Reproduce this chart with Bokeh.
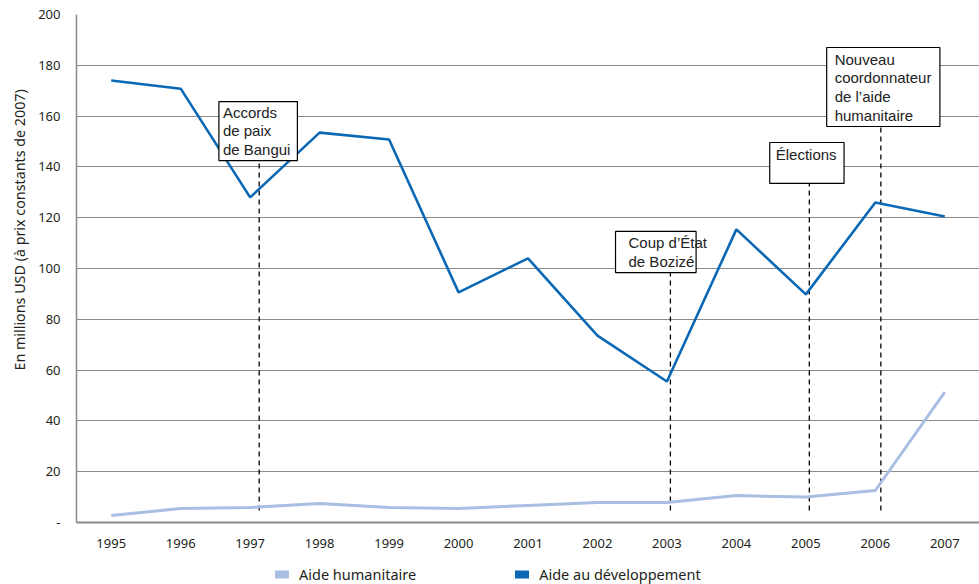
from bokeh.plotting import figure
from bokeh.models import (ColumnDataSource, FixedTicker, Legend, LegendItem,
                          Range1d, Span, Title)
from bokeh.core.properties import value
from bokeh.embed import file_html
from bokeh.resources import INLINE

# Aid flows to the Central African Republic, millions USD (constant 2007 prices)
years = [1995, 1996, 1997, 1998, 1999, 2000, 2001, 2002, 2003, 2004, 2005, 2006, 2007]
aide_developpement = [174.0, 170.8, 128.0, 153.5, 150.8, 90.6, 104.0, 73.6, 55.5, 115.4, 89.8, 126.0, 120.5]
aide_humanitaire = [2.8, 5.5, 5.9, 7.5, 5.9, 5.5, 6.7, 7.9, 7.9, 10.6, 10.0, 12.6, 51.3]
year_labels = [str(y) for y in years]
y_ticks = [0, 20, 40, 60, 80, 100, 120, 140, 160, 180, 200]

# Key events: marker position, label, box (left, right, bottom, top) in data units
event_x = [1997.13, 2003.05, 2005.05, 2006.08]
event_labels = ["Accords\nde paix\nde Bangui", "Coup d\u2019\u00c9tat\nde Boziz\u00e9",
                "\u00c9lections", "Nouveau\ncoordonnateur\nde l\u2019aide\nhumanitaire"]
box_left = [1996.55, 2002.26, 2004.48, 2005.30]
box_right = [1997.68, 2003.42, 2005.55, 2006.93]
box_bottom = [142.5, 98.4, 133.5, 155.9]
box_top = [165.7, 114.6, 149.6, 187.0]
text_pad_x = [4, 13, 6, 8]
text_pad_y = [2, 3, 3, 3]
dash_bottom = 4.7

AXIS_FONT = "Noto Sans"
TEXT_COLOR = "#231f20"
GRID_COLOR = "#8a8a8a"
HUM_COLOR = "#a9bee3"
DEV_COLOR = "#0a68b4"

# The frame reaches the bottom of the canvas; the strip below zero holds the
# year labels and the legend, so the value axis is bounded to 0..200.
PX_PER_UNIT = 508 / 200
y_floor = -62 / PX_PER_UNIT

p = figure(width=979, height=584, output_backend="svg", toolbar_location=None,
           x_range=Range1d(1994.5, 2007.5), y_range=Range1d(y_floor, 200),
           min_border_left=74, min_border_right=0, min_border_top=14,
           min_border_bottom=0)
p.outline_line_color = None
p.background_fill_color = "white"

# value axis
p.xaxis.visible = False
p.yaxis.ticker = FixedTicker(ticks=y_ticks)
p.yaxis.bounds = (0, 200)
p.yaxis.major_label_overrides = {0: "-"}
p.yaxis.major_tick_line_color = None
p.yaxis.minor_tick_line_color = None
p.yaxis.axis_line_color = GRID_COLOR
p.yaxis.axis_line_width = 1.5
p.yaxis.major_label_text_font = AXIS_FONT
p.yaxis.major_label_text_font_size = "13px"
p.yaxis.major_label_text_color = TEXT_COLOR
p.yaxis.major_label_standoff = 10

p.add_layout(Title(text="En millions USD (\u00e0 prix constants de 2007)",
                   align="left", offset=214, text_font=AXIS_FONT,
                   text_font_size="14.3px", text_font_style="normal",
                   text_color=TEXT_COLOR, standoff=14), "left")

p.xgrid.grid_line_color = None
p.ygrid.grid_line_color = GRID_COLOR
p.ygrid.grid_line_width = 1.2

# category baseline and year labels
p.add_layout(Span(location=0, dimension="width", line_color=GRID_COLOR,
                  line_width=2))
p.text(x=years, y=[0] * len(years), text=year_labels, y_offset=21,
       text_font=value(AXIS_FONT), text_font_size="13px", text_color=TEXT_COLOR,
       text_align="center", text_baseline="middle")

# event markers: dashed verticals and labelled boxes
p.segment(x0=event_x, x1=event_x, y0=[dash_bottom] * 4, y1=box_bottom,
          line_color="black", line_width=1.3, line_dash="5 4")

src = ColumnDataSource(dict(left=box_left, right=box_right, bottom=box_bottom,
                            top=box_top, label=event_labels,
                            dx=text_pad_x, dy=text_pad_y))

# data lines
p.line(years, aide_humanitaire, line_color=HUM_COLOR, line_width=3)
p.line(years, aide_developpement, line_color=DEV_COLOR, line_width=2.6)

p.quad(left="left", right="right", bottom="bottom", top="top", source=src,
       fill_color="white", line_color="black", line_width=1.2)
p.text(x="left", y="top", text="label", source=src,
       text_font=value("Liberation Sans"), text_font_size="15px",
       text_color="#222222", text_align="left", text_baseline="top",
       text_line_height=1.1, x_offset="dx", y_offset="dy")

# legend swatches: thick rounded bars (hidden on the plot itself)
sw_hum = p.line(years, aide_humanitaire, line_color=HUM_COLOR, line_width=8,
                line_cap="round", visible=False)
sw_dev = p.line(years, aide_developpement, line_color=DEV_COLOR, line_width=8,
                line_cap="round", visible=False)

legend = Legend(items=[LegendItem(label="Aide humanitaire", renderers=[sw_hum]),
                       LegendItem(label="Aide au d\u00e9veloppement", renderers=[sw_dev])],
                orientation="horizontal", location=(199, 0),
                glyph_width=14, glyph_height=14, label_standoff=10, spacing=99,
                label_text_font=AXIS_FONT, label_text_font_size="14.5px",
                label_text_color=TEXT_COLOR, border_line_color=None,
                background_fill_alpha=0, inactive_fill_alpha=0,
                padding=2, margin=0)
p.add_layout(legend, "center")

open("out.html", "w").write(file_html(p, INLINE))
